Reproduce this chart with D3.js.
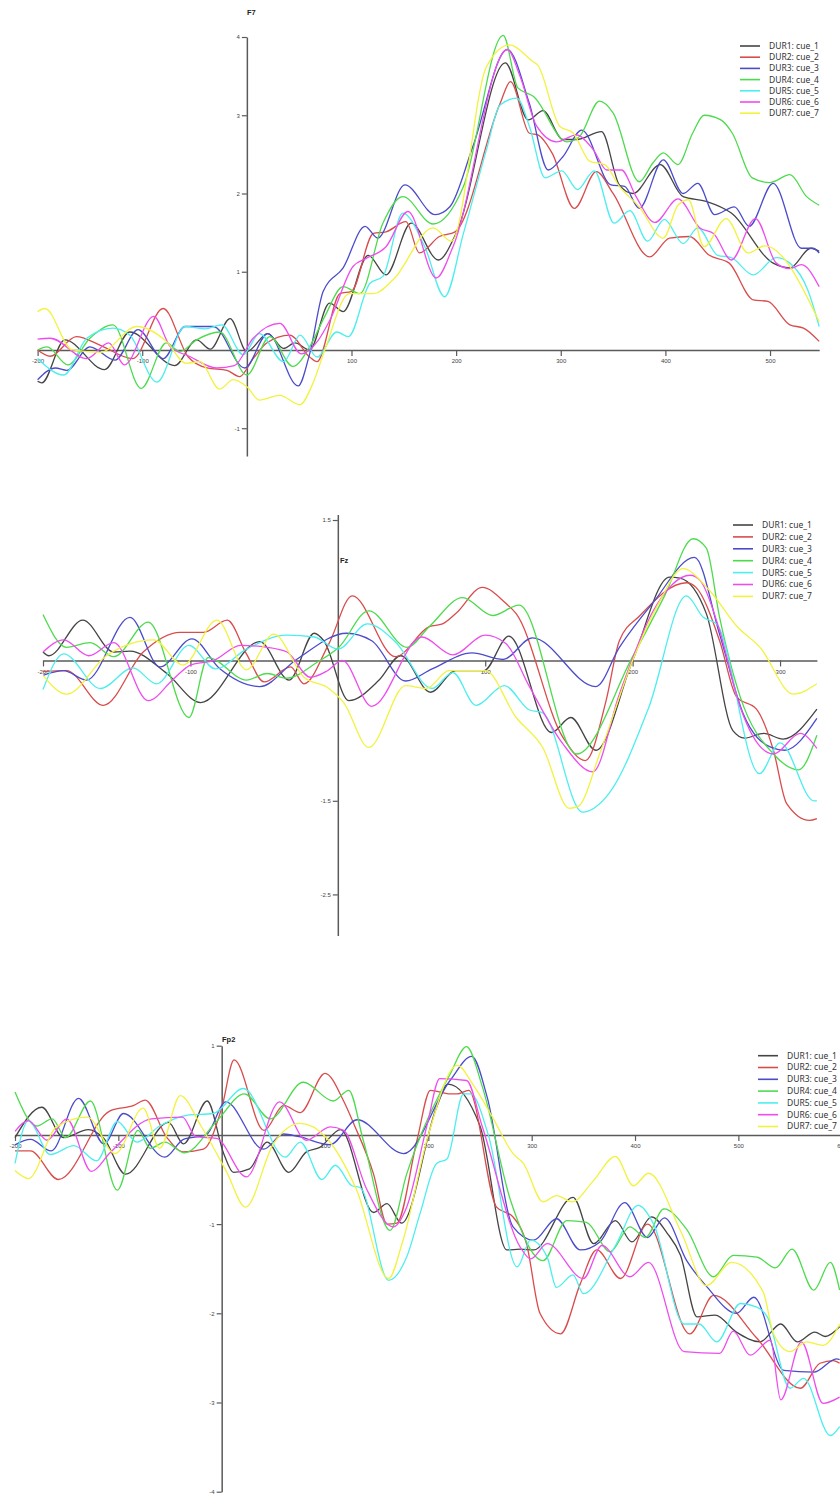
<!DOCTYPE html>
<html><head><meta charset="utf-8">
<script src="https://cdn.jsdelivr.net/npm/d3@7"></script>
<style>body{margin:0;background:#fff}svg{display:block}</style>
</head><body>
<svg id="chart" width="840" height="1495"></svg>
<script>
const seriesNames = ["DUR1: cue_1","DUR2: cue_2","DUR3: cue_3","DUR4: cue_4","DUR5: cue_5","DUR6: cue_6","DUR7: cue_7"];
const seriesColors = ["#454545","#d94c4c","#4b4bcc","#4ddb4d","#4deeee","#ee4dee","#f2f240"];

// ---------- F7 ----------
const f7_xTicks = [-200,-100,100,200,300,400,500];
const f7_yTicks = [-1,1,2,3,4];
const f7_cue1 = [[-200,-0.40],[-196,-0.42],[-174,0.13],[-136,-0.25],[-112,0.23],[-69,-0.20],[-48,0.13],[-35,0.01],[-16,0.40],[0,-0.02],[20,0.21],[35,0.02],[46,0.09],[60,0.0],[79,0.60],[92,0.49],[116,1.21],[133,0.96],[157,1.62],[183,1.15],[200,1.49],[247,3.67],[269,2.94],[283,3.06],[302,2.69],[315,2.69],[339,2.79],[356,2.11],[369,2.00],[395,2.37],[417,1.96],[439,1.90],[463,1.75],[503,1.11],[519,1.05],[539,1.30],[547,1.26]];
const f7_cue2 = [[-200,0.00],[-188,-0.08],[-163,0.17],[-140,0.06],[-109,-0.11],[-80,0.53],[-56,-0.09],[-38,-0.23],[-19,-0.26],[-7,-0.34],[6,-0.11],[19,0.09],[41,0.19],[60,-0.09],[67,-0.15],[89,0.72],[100,0.75],[121,1.49],[133,1.51],[152,1.64],[165,1.24],[184,1.45],[199,1.51],[242,3.15],[252,3.43],[270,2.77],[278,2.75],[292,2.51],[313,1.81],[334,2.28],[350,2.00],[385,1.19],[404,1.43],[423,1.45],[442,1.21],[461,1.11],[484,0.64],[498,0.62],[519,0.32],[532,0.28],[547,0.11]];
const f7_cue3 = [[-200,-0.38],[-183,-0.23],[-172,-0.26],[-150,0.04],[-126,-0.13],[-104,0.26],[-80,-0.11],[-59,0.30],[-32,0.30],[-2,-0.23],[20,0.21],[49,-0.46],[60,-0.05],[73,0.75],[92,1.05],[113,1.58],[125,1.43],[151,2.11],[180,1.73],[194,1.83],[216,2.60],[249,3.84],[270,3.15],[288,2.30],[302,2.47],[320,2.81],[348,2.11],[361,2.09],[375,1.81],[398,2.43],[417,2.00],[431,2.13],[447,1.73],[466,1.83],[480,1.58],[503,2.13],[530,1.30],[541,1.30],[547,1.24]];
const f7_cue4 = [[-200,0.00],[-191,0.04],[-171,-0.19],[-150,0.15],[-128,0.32],[-101,-0.49],[-77,0.09],[-64,-0.02],[-48,0.13],[-26,0.23],[0,-0.32],[22,0.17],[44,-0.21],[60,0.04],[74.5,0.43],[92,0.81],[108,0.72],[130,1.62],[149,1.96],[178,1.61],[207,2.09],[245,4.02],[259,3.35],[274,3.24],[306,2.66],[318,2.73],[337,3.18],[350,3.03],[375,2.15],[388,2.39],[398,2.52],[412,2.37],[426,2.77],[437,3.00],[453,2.94],[464,2.77],[483,2.20],[500,2.14],[519,2.24],[535,1.96],[547,1.85]];
const f7_cue5 = [[-200,-0.11],[-175,-0.32],[-153,0.15],[-128,0.28],[-112,0.19],[-86,-0.41],[-59,0.30],[-40,0.27],[-24,0.32],[-3.5,-0.06],[12,0.21],[35,-0.15],[51,0.19],[67,-0.09],[86,0.23],[97,0.17],[117.5,0.85],[130,0.94],[149,1.75],[170,1.32],[189,0.68],[207,1.49],[229,2.56],[242,3.13],[258,3.22],[270,2.86],[285,2.20],[301,2.29],[316,2.05],[332,2.29],[351,1.62],[366,1.78],[383,1.39],[399,1.67],[417,1.36],[431,1.56],[450,1.21],[463,1.18],[484,0.96],[506,1.18],[519,1.11],[536,0.77],[547,0.30]];
const f7_cue6 = [[-200,0.14],[-188,0.15],[-153,-0.11],[-132,0.09],[-117,-0.19],[-89,0.43],[-73,0.04],[-55,-0.08],[-29,-0.23],[-12,-0.20],[6,0.15],[31.5,0.34],[52,-0.05],[68,0.12],[80,0.40],[101.6,1.07],[114,1.17],[133,1.32],[154,1.77],[181,0.92],[197,1.32],[249,3.84],[261,3.50],[277,2.86],[296,2.66],[315,2.75],[331,2.56],[344,2.30],[358,2.30],[372,1.96],[390,1.63],[412,1.93],[433,1.56],[446,1.49],[463,1.15],[486,1.68],[506,1.11],[519,1.04],[530,1.09],[547,0.81]];
const f7_cue7 = [[-200,0.49],[-193,0.53],[-167,0.00],[-140,-0.03],[-105,0.30],[-77,0.11],[-58,-0.17],[-45,-0.15],[-26,-0.50],[-13,-0.38],[0,-0.47],[12,-0.64],[31.5,-0.58],[50.6,-0.70],[63,-0.43],[74.5,0.00],[98,0.72],[121,0.72],[140,0.90],[178,1.56],[195.5,1.39],[229,3.62],[251,3.90],[273,3.69],[278,3.64],[299,2.86],[312,2.77],[328,2.41],[342,2.37],[356,2.09],[375,1.83],[398,1.43],[412,1.85],[422,1.92],[437,1.32],[458,1.68],[479,1.24],[495,1.33],[547,0.36]];

// ---------- Fz ----------
const fz_xTicks = [-200,-100,100,200,300];
const fz_yTicks = [-2.5,-1.5,1.5];
const fz_cue1 = [[-200,0.09],[-196,0.05],[-173,0.43],[-152,0.09],[-141,0.10],[-116,-0.14],[-93,-0.45],[-53,0.20],[-33,-0.21],[-16,0.29],[-9.5,0.21],[7.5,-0.43],[28,-0.21],[42.6,0.05],[63,-0.34],[80,-0.11],[99,-0.11],[116,0.26],[145,-0.77],[158,-0.61],[175,-0.96],[200,0.00],[225,0.89],[232,0.88],[250,0.50],[268,-0.75],[276,-0.83],[289,-0.78],[302,-0.84],[325,-0.52]];
const fz_cue2 = [[-200,-0.12],[-184,-0.11],[-159,-0.48],[-132,0.09],[-107,0.30],[-91,0.30],[-75,0.43],[-62,0.07],[-50,-0.23],[-32,-0.07],[-23,-0.25],[-6,0.18],[9.8,0.69],[39,0.04],[62,0.36],[71,0.39],[80,0.50],[98,0.78],[114,0.61],[121,0.50],[152.6,-0.82],[168,-1.07],[182,-0.43],[191,0.21],[205,0.48],[236.5,0.83],[243,0.78],[259,0.21],[270.5,-0.39],[284,-0.52],[295.5,-0.96],[304.5,-1.53],[320,-1.71],[325,-1.69]];
const fz_cue3 = [[-200,-0.16],[-186,-0.11],[-170.5,-0.21],[-141,0.46],[-120.6,-0.07],[-99,0.23],[-80,-0.09],[-53,-0.28],[-28,0.01],[6,0.29],[23,0.21],[46,-0.22],[64,-0.09],[91,0.08],[112,0.01],[132,0.24],[175,-0.28],[191,0.14],[214,0.62],[242,1.10],[259,0.28],[275,-0.57],[294,-0.93],[303,-0.96],[325,-0.62]];
const fz_cue4 = [[-200,0.49],[-184,0.14],[-168,0.19],[-152,0.04],[-128.6,0.41],[-101,-0.61],[-88,0.03],[-62,-0.21],[-48,-0.14],[-35,-0.19],[-14,-0.02],[0.7,0.14],[21,0.53],[47,0.14],[62,0.36],[84.6,0.67],[105,0.48],[123,0.59],[162,-1.00],[200,0.04],[222,0.70],[241,1.30],[250,1.20],[259,0.46],[273,-0.39],[295.5,-1.00],[312.5,-1.17],[325,-0.80]];
const fz_cue5 = [[-200,-0.31],[-186,0.07],[-161,-0.30],[-139,-0.08],[-123,-0.25],[-101,0.16],[-83,-0.09],[-62,0.12],[-34.5,0.27],[-16,0.25],[0,0.12],[20,0.39],[39,0.20],[64,-0.30],[78,-0.13],[93.7,-0.48],[113,-0.27],[130,-0.53],[139,-0.56],[166,-1.62],[184,-1.42],[211,-0.50],[236.5,0.69],[248,0.46],[257,0.39],[286,-1.21],[300,-0.88],[323,-1.50],[325,-1.50]];
const fz_cue6 = [[-200,0.09],[-186,0.22],[-169,0.05],[-152,0.19],[-128.6,-0.43],[-111.6,-0.20],[-100,-0.05],[-84,0.00],[-66,0.16],[-48,0.14],[-34.5,0.09],[-18.6,-0.18],[-7,-0.11],[3,0.00],[23,-0.49],[57,0.25],[78,0.06],[100,0.27],[114,0.18],[130,-0.28],[152.6,-0.89],[173,-1.19],[191,-0.36],[214,0.53],[239,0.91],[246,0.85],[259,0.32],[273,-0.50],[295.5,-1.00],[313.6,-0.78],[325,-0.94]];
const fz_cue7 = [[-200,-0.16],[-184,-0.36],[-157,0.05],[-125,0.22],[-105,-0.05],[-82,0.43],[-62,-0.10],[-43.5,0.28],[-23,-0.18],[-6,-0.30],[4,-0.45],[21,-0.93],[46,-0.27],[60,-0.30],[75.5,-0.11],[100,-0.11],[121,-0.61],[139,-0.93],[157,-1.58],[163,-1.56],[178,-0.98],[200,0.00],[218,0.62],[234,0.98],[252,0.75],[271,0.36],[286.4,0.14],[309,-0.36],[325,-0.25]];

// ---------- Fp2 ----------
const fp2_xTicks = [-200,-100,100,200,300,400,500,600];
const fp2_yTicks = [-4,-3,-2,-1,1];
const fp2_cue1 = [[-200,-0.03],[-174,0.31],[-153,-0.03],[-129,0.06],[-114,-0.04],[-93,-0.44],[-51.5,0.14],[-37,-0.10],[-14,0.38],[2,-0.21],[11.5,-0.42],[27,-0.38],[44,-0.08],[65,-0.42],[82,-0.19],[95,-0.14],[115,0.06],[147,-0.87],[160,-0.77],[174,-0.99],[208,0.31],[219,0.57],[250,0.10],[276,-1.29],[289,-1.28],[302,-1.29],[340,-0.70],[360,-1.22],[381,-0.96],[397,-1.20],[416,-0.92],[431,-1.10],[444,-1.35],[460,-2.04],[477.5,-2.02],[498,-2.21],[521,-2.32],[541,-2.12],[557,-2.32],[574,-2.21],[584,-2.26],[598,-2.15]];
const fp2_cue2 = [[-200,-0.18],[-185,-0.18],[-158,-0.50],[-108,0.27],[-85,0.33],[-74,0.39],[-53,-0.03],[-37,-0.19],[-17.6,-0.16],[0,0.30],[12,0.84],[41,0.05],[60,0.33],[76,0.25],[100,0.69],[118,0.38],[128,0.12],[147,-0.44],[160,-1.00],[169.5,-0.99],[189,-0.06],[202,0.50],[221,0.46],[228,0.46],[239,0.50],[266,-0.81],[282,-0.92],[295,-1.22],[308,-2.00],[328,-2.23],[347,-1.67],[363,-1.29],[386,-1.61],[412,-1.00],[453,-2.23],[476,-1.80],[518,-2.28],[560,-2.84],[579,-2.56],[592,-2.53],[598,-2.56]];
const fp2_cue3 = [[-200,-0.11],[-185,-0.05],[-165,-0.18],[-138.5,0.41],[-114,-0.10],[-95,0.24],[-55,-0.25],[-37,-0.05],[-15,0.00],[4,0.37],[40.5,-0.16],[60,0.01],[75,-0.02],[105,-0.11],[131,0.17],[176,-0.21],[221,0.61],[242,0.88],[257,0.42],[282,-1.03],[302,-1.18],[324,-0.94],[347,-1.29],[366,-1.20],[390,-0.76],[412,-1.15],[428.5,-0.93],[450,-1.41],[470,-1.71],[498,-2.00],[515,-1.82],[544,-2.64],[573,-2.66],[595,-2.51],[598,-2.52]];
const fp2_cue4 = [[-200,0.48],[-179,0.10],[-164,0.18],[-151,-0.03],[-127,0.38],[-101,-0.62],[-81,0.05],[-69,-0.15],[-55,-0.08],[-36,-0.20],[-5,0.15],[22,0.46],[47,0.18],[79,0.59],[108,0.38],[123,0.50],[137,-0.06],[163,-1.07],[179,-0.44],[221,0.68],[237,0.99],[252,0.55],[280,-0.75],[311,-1.41],[334,-0.96],[353,-0.98],[376,-1.31],[395,-1.03],[410,-1.15],[428,-0.83],[450,-1.06],[476,-1.59],[495,-1.35],[518,-1.37],[536,-1.49],[552,-1.28],[573,-1.74],[589,-1.43],[598,-1.74]];
const fp2_cue5 = [[-200,-0.32],[-187,0.16],[-166,-0.22],[-143,-0.12],[-121,-0.29],[-101,0.15],[-82,-0.08],[-60,0.10],[-34,0.22],[-8,0.24],[21,0.52],[61.5,-0.25],[76,-0.08],[97,-0.50],[110,-0.34],[126,-0.57],[134,-0.59],[161.5,-1.63],[179,-1.37],[192,-0.88],[208,-0.32],[218,-0.27],[234,0.46],[241,0.46],[258,0.00],[286,-1.48],[299,-1.18],[315,-1.37],[324,-1.71],[340,-1.57],[350,-1.78],[382,-1.22],[403,-0.79],[418,-1.00],[447.5,-2.12],[462,-2.12],[479,-2.32],[502,-1.89],[518,-1.93],[528,-2.04],[550,-2.84],[563,-2.73],[589,-3.37],[598,-3.27]];
const fp2_cue6 = [[-200,0.04],[-187,0.16],[-169,-0.06],[-150,0.18],[-126,-0.41],[-108,-0.20],[-68,0.18],[-38,0.20],[-25,-0.02],[-5,-0.04],[24,-0.47],[56,0.37],[82,-0.06],[105,0.09],[118,0.05],[140,-0.60],[166,-1.03],[179,-0.81],[199,0.12],[211,0.63],[237,0.61],[252,0.10],[289,-1.26],[299,-1.39],[315,-1.22],[350,-1.61],[368,-1.24],[395,-1.59],[413,-1.43],[447.5,-2.43],[482,-2.45],[495,-2.20],[511.5,-2.47],[531,-2.30],[541,-2.97],[561,-2.32],[582,-3.01],[598,-2.94]];
const fp2_cue7 = [[-200,-0.40],[-187,-0.49],[-160,0.09],[-130,0.20],[-103,-0.21],[-76,0.30],[-60,-0.15],[-40,0.44],[-20,0.10],[5,-0.42],[23,-0.81],[50,-0.10],[76,0.13],[102,-0.04],[130,-0.60],[161.5,-1.61],[175,-1.20],[200,0.00],[228,0.78],[244,0.55],[262,0.20],[282,-0.21],[292,-0.32],[311,-0.75],[324,-0.68],[339,-0.75],[360,-0.51],[381,-0.24],[398.5,-0.57],[413,-0.43],[445,-1.10],[469,-1.69],[493.5,-1.43],[524,-1.76],[534,-2.23],[550,-2.43],[566,-2.32],[582,-2.36],[598,-2.12]];

const panels = [
  {title:"F7", series:[f7_cue1,f7_cue2,f7_cue3,f7_cue4,f7_cue5,f7_cue6,f7_cue7],
   xDomain:[-200,547], xRange:[37.6,819.2], yDomain:[-1.355,4], yRange:[456,37],
   xTicks:f7_xTicks, yTicks:f7_yTicks, titleX:247, titleY:15, legX:740, legY:46, legDy:11.2},
  {title:"Fz", series:[fz_cue1,fz_cue2,fz_cue3,fz_cue4,fz_cue5,fz_cue6,fz_cue7],
   xDomain:[-200,325], xRange:[43,816.9], yDomain:[-2.94,1.56], yRange:[935.6,514.4],
   xTicks:fz_xTicks, yTicks:fz_yTicks, titleX:340, titleY:563, legX:733, legY:525, legDy:11.9},
  {title:"Fp2", series:[fp2_cue1,fp2_cue2,fp2_cue3,fp2_cue4,fp2_cue5,fp2_cue6,fp2_cue7],
   xDomain:[-200,600], xRange:[15,841.7], yDomain:[-4,1], yRange:[1491.7,1045.7],
   xTicks:fp2_xTicks, yTicks:fp2_yTicks, titleX:222, titleY:1042, legX:758, legY:1055.7, legDy:11.8}
];

const svg = d3.select("#chart");
const axisColor = "#5a5a5a";

panels.forEach(p => {
  const x = d3.scaleLinear().domain(p.xDomain).range(p.xRange);
  const y = d3.scaleLinear().domain(p.yDomain).range(p.yRange);
  const g = svg.append("g");

  const xAxis = g.append("g").attr("transform", `translate(0,${y(0)})`)
    .call(d3.axisBottom(x).tickValues(p.xTicks).tickSize(6).tickSizeOuter(0).tickPadding(3).tickFormat(d => String(d)));
  const yAxis = g.append("g").attr("transform", `translate(${x(0)},0)`)
    .call(d3.axisLeft(y).tickValues(p.yTicks).tickSize(5).tickSizeOuter(0).tickPadding(2).tickFormat(d => String(d)));
  [xAxis, yAxis].forEach(a => {
    a.select(".domain").attr("stroke", axisColor).attr("stroke-width", 1.5);
    a.selectAll(".tick line").attr("stroke", axisColor).attr("stroke-width", 1.2);
    a.selectAll(".tick text").attr("fill", "#444").style("font-size", "6px").style("font-family", "Liberation Sans, Arial, sans-serif");
  });

  const line = d3.line().x(d => x(d[0])).y(d => y(d[1])).curve(d3.curveMonotoneX);
  p.series.forEach((s, i) => {
    g.append("path").datum(s).attr("d", line)
      .attr("fill", "none").attr("stroke", seriesColors[i]).attr("stroke-width", 1.3)
      .attr("stroke-linejoin", "round");
  });

  g.append("text").attr("x", p.titleX).attr("y", p.titleY).text(p.title)
    .attr("fill", "#222").style("font-weight", "bold").style("font-size", "7.5px")
    .style("font-family", "Liberation Sans, Arial, sans-serif");

  const leg = g.append("g");
  leg.append("rect").attr("x", p.legX + 23).attr("y", p.legY - 7)
    .attr("width", 80).attr("height", p.legDy * 6 + 14).attr("fill", "#fff");
  seriesNames.forEach((n, i) => {
    const yy = p.legY + i * p.legDy;
    leg.append("line").attr("x1", p.legX).attr("x2", p.legX + 20).attr("y1", yy).attr("y2", yy)
      .attr("stroke", seriesColors[i]).attr("stroke-width", 1.6);
    leg.append("text").attr("x", p.legX + 29).attr("y", yy).attr("dy", "0.35em").text(n)
      .attr("fill", "#333").style("font-size", "8.5px").style("font-family", "Noto Sans, Open Sans, sans-serif");
  });
});
</script>
</body></html>
